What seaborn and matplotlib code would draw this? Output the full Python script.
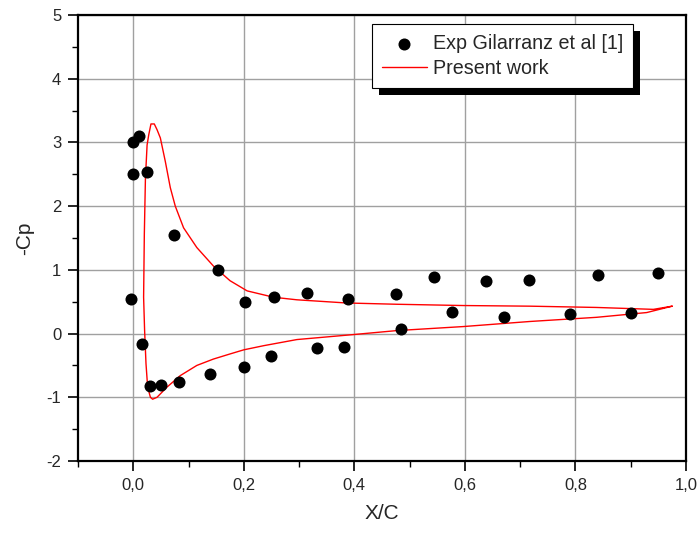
import matplotlib
matplotlib.use("Agg")
import matplotlib.pyplot as plt
import matplotlib.ticker as mticker
from matplotlib.patches import Rectangle
import seaborn as sns
import pandas as pd

# Experimental data (Gilarranz et al)
exp_x = [-0.005, 0.0, 0.011, 0.0, 0.024, 0.016, 0.031, 0.051, 0.074, 0.083, 0.139,
         0.154, 0.201, 0.203, 0.250, 0.254, 0.314, 0.332, 0.381, 0.388, 0.476, 0.485,
         0.544, 0.576, 0.638, 0.670, 0.716, 0.790, 0.840, 0.901, 0.949]
exp_cp = [0.55, 3.00, 3.10, 2.50, 2.54, -0.16, -0.82, -0.81, 1.54, -0.76, -0.64,
          1.00, -0.52, 0.50, -0.35, 0.57, 0.64, -0.22, -0.21, 0.55, 0.625, 0.07,
          0.89, 0.34, 0.82, 0.26, 0.84, 0.30, 0.92, 0.33, 0.95]

# Present work: closed curve (lower surface TE->LE, then upper surface LE->TE)
cfd_x = [0.975, 0.929, 0.838, 0.718, 0.597, 0.477, 0.398, 0.296, 0.236, 0.200, 0.175,
         0.145, 0.115, 0.085, 0.061, 0.043, 0.035, 0.031, 0.026, 0.023, 0.0205, 0.0187,
         0.020, 0.022, 0.025, 0.028, 0.032, 0.038, 0.043, 0.049, 0.058, 0.067, 0.076,
         0.091, 0.115, 0.145, 0.175, 0.206, 0.254, 0.296, 0.386, 0.477, 0.597, 0.718,
         0.838, 0.941, 0.975]
cfd_cp = [0.43, 0.33, 0.255, 0.19, 0.11, 0.047, -0.016, -0.094, -0.19, -0.255, -0.32,
          -0.40, -0.50, -0.66, -0.84, -1.00, -1.03, -1.00, -0.84, -0.47, 0.05, 0.57,
          1.56, 2.44, 2.96, 3.12, 3.29, 3.29, 3.20, 3.07, 2.70, 2.29, 2.00,
          1.66, 1.35, 1.06, 0.83, 0.67, 0.57, 0.53, 0.48, 0.46, 0.44, 0.43,
          0.41, 0.38, 0.43]

exp_df = pd.DataFrame({"x": exp_x, "cp": exp_cp})
cfd_df = pd.DataFrame({"x": cfd_x, "cp": cfd_cp})

sns.set_style("white")
plt.rcParams["font.family"] = ["Liberation Sans", "DejaVu Sans"]

fig = plt.figure(figsize=(7.0, 5.37), dpi=100)
ax = fig.add_axes([78 / 700, 1 - 461 / 537, 608 / 700, 446 / 537])

sns.scatterplot(data=exp_df, x="x", y="cp", ax=ax, color="black", s=75,
                edgecolor="black", linewidth=0, zorder=4,
                label="Exp Gilarranz et al [1]")
sns.lineplot(data=cfd_df, x="x", y="cp", ax=ax, sort=False, estimator=None,
             color="red", linewidth=1.0, zorder=3, label="Present work")

ax.set_xlim(-0.1, 1.0)
ax.set_ylim(-2, 5)
ax.xaxis.set_major_locator(mticker.MultipleLocator(0.2))
ax.xaxis.set_minor_locator(mticker.MultipleLocator(0.1))
ax.yaxis.set_major_locator(mticker.MultipleLocator(1))
ax.yaxis.set_minor_locator(mticker.MultipleLocator(0.5))
ax.xaxis.set_major_formatter(mticker.FuncFormatter(lambda v, p: f"{v:.1f}".replace(".", ",").replace("-0,0", "0,0")))
ax.yaxis.set_major_formatter(mticker.FuncFormatter(lambda v, p: f"{int(round(v))}"))

ax.grid(True, which="major", color="#a0a0a0", linewidth=1.0)
ax.set_axisbelow(True)
for s in ax.spines.values():
    s.set_color("black")
    s.set_linewidth(1.6)
    s.set_visible(True)
ax.tick_params(which="major", direction="out", length=7, width=1.2, color="black",
               labelsize=12, left=True, bottom=True, top=False, right=False, pad=5)
ax.tick_params(which="minor", direction="out", length=4, width=1.0, color="black",
               left=True, bottom=True, top=False, right=False)

ax.set_xlabel("X/C", fontsize=15, labelpad=8)
ax.set_ylabel("-Cp", fontsize=15, labelpad=9)

leg = ax.legend(loc="upper right", bbox_to_anchor=((633 - 78) / 608, (461 - 24) / 446),
                borderaxespad=0, fancybox=False, frameon=True, fontsize=14.2,
                handlelength=2.3, handletextpad=0.3, borderpad=0.5, labelspacing=0.3)
leg.get_frame().set_edgecolor("black")
leg.get_frame().set_linewidth(0.8)
leg.get_frame().set_alpha(1)
leg.set_zorder(10)

fig.canvas.draw()
bb = leg.get_window_extent().transformed(fig.transFigure.inverted())
dx, dy = 7 / 700, 7 / 537
shadow = Rectangle((bb.x0 + dx, bb.y0 - dy), bb.width, bb.height, transform=fig.transFigure,
                   facecolor="black", edgecolor="none", zorder=9, clip_on=False)
ax.add_artist(shadow)

fig.savefig("out.png", dpi=100)
